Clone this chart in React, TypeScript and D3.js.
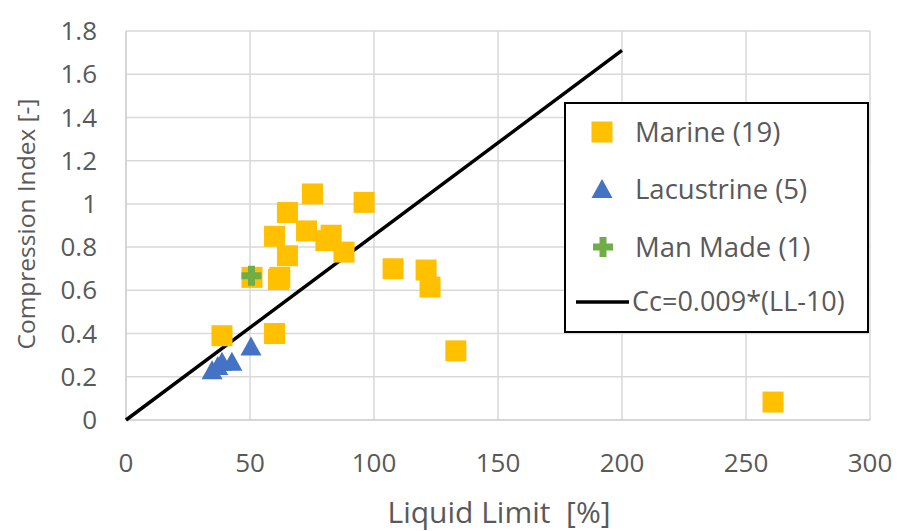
import * as d3 from 'd3';

// Liquid limit [%] / compression index [-]
const marineLL = [38.7, 50.8, 59.9, 61.5, 59.9, 65.1, 65.1, 75.2, 72.8, 82.7, 80.6, 87.9, 96, 107.7, 121, 122.6, 133, 260.9, 62];
const marineCc = [0.39, 0.66, 0.85, 0.65, 0.4, 0.96, 0.76, 1.046, 0.875, 0.855, 0.83, 0.777, 1.007, 0.7, 0.694, 0.615, 0.32, 0.083, 0.66];
const lacustrineLL = [34.7, 37, 38.7, 42.7, 50.4];
const lacustrineCc = [0.23, 0.25, 0.27, 0.27, 0.34];
const manMadeLL = [50.6];
const manMadeCc = [0.667];
const fitLL = [0, 200];
const fitCc = [0, 1.71];

const xTicks = [0, 50, 100, 150, 200, 250, 300];
const yTicks = [0, 0.2, 0.4, 0.6, 0.8, 1, 1.2, 1.4, 1.6, 1.8];
const legendLabels = ['Marine (19)', 'Lacustrine (5)', 'Man Made (1)', 'Cc=0.009*(LL-10)'];

const W = 898;
const H = 531;
const FONT = '"Open Sans", "Liberation Sans", sans-serif';
const TEXT = '#595959';
const GRID = '#d9d9d9';
const MARINE = '#FFC000';
const LACUSTRINE = '#4472C4';
const MANMADE = '#70AD47';

const x = d3.scaleLinear().domain([0, 300]).range([126, 870]);
const y = d3.scaleLinear().domain([0, 1.8]).range([420, 31]);

const SQ = 21;
const triPath = (cx: number, cy: number) =>
  `M${cx},${cy - 10} L${cx + 10.5},${cy + 9} L${cx - 10.5},${cy + 9} Z`;
const plusPath = (cx: number, cy: number) => {
  const a = 10, t = 3.5;
  return `M${cx - t},${cy - a} h${2 * t} v${a - t} h${a - t} v${2 * t} h${-(a - t)} v${a - t} h${-2 * t} v${-(a - t)} h${-(a - t)} v${-2 * t} h${a - t} Z`;
};

export default function App() {
  const line = d3.line<number>().x((_, i) => x(fitLL[i])).y(d => y(d));

  return (
    <div style={{ position: 'fixed', left: 0, top: 0 }}>
      <svg width={W} height={H} style={{ display: 'block', background: '#fff' }} fontFamily={FONT}>
        {/* grid */}
        {xTicks.slice(1).map(t => (
          <line key={'gx' + t} x1={x(t)} x2={x(t)} y1={y(0)} y2={y(1.8)} stroke={GRID} strokeWidth={1.5} />
        ))}
        {yTicks.slice(1).map(t => (
          <line key={'gy' + t} x1={x(0)} x2={x(300)} y1={y(t)} y2={y(t)} stroke={GRID} strokeWidth={1.5} />
        ))}
        {/* axes */}
        <line x1={x(0)} x2={x(0)} y1={y(0)} y2={y(1.8)} stroke="#c8c8c8" strokeWidth={1.5} />
        <line x1={x(0)} x2={x(300)} y1={y(0)} y2={y(0)} stroke="#c8c8c8" strokeWidth={1.5} />

        {/* tick labels */}
        {yTicks.map(t => (
          <text key={'ty' + t} x={97} y={y(t)} dy="0.35em" textAnchor="end" fontSize={26} fill={TEXT}>
            {d3.format('~g')(t)}
          </text>
        ))}
        {xTicks.map(t => (
          <text key={'tx' + t} x={x(t)} y={463} dy="0.35em" textAnchor="middle" fontSize={26} fill={TEXT}>
            {t}
          </text>
        ))}

        {/* axis titles */}
        <text transform={`translate(26,224) rotate(-90)`} textAnchor="middle" dy="0.35em" fontSize={24.5} fill={TEXT}>
          Compression Index [-]
        </text>
        <text x={499} y={512} textAnchor="middle" dy="0.35em" fontSize={30} fill={TEXT} style={{ whiteSpace: 'pre' }}>
          {'Liquid Limit  [%]'}
        </text>

        {/* series */}
        {lacustrineLL.map((v, i) => (
          <path key={'l' + i} d={triPath(x(v), y(lacustrineCc[i]))} fill={LACUSTRINE} />
        ))}
        <path d={line(fitCc) ?? ''} stroke="#000" strokeWidth={3.5} fill="none" />
        {marineLL.map((v, i) => (
          <rect key={'m' + i} x={x(v) - SQ / 2} y={y(marineCc[i]) - SQ / 2} width={SQ} height={SQ} fill={MARINE} />
        ))}
        {manMadeLL.map((v, i) => (
          <path key={'p' + i} d={plusPath(x(v), y(manMadeCc[i]))} fill={MANMADE} />
        ))}

        {/* legend */}
        <rect x={565} y={103} width={303} height={229} fill="#fff" stroke="#000" strokeWidth={2} />
        <rect x={602 - 10.5} y={132 - 10.5} width={SQ} height={SQ} fill={MARINE} />
        <path d={triPath(602, 189)} fill={LACUSTRINE} />
        <path d={plusPath(603, 247)} fill={MANMADE} />
        <line x1={576} x2={629} y1={302} y2={302} stroke="#000" strokeWidth={3.5} />
        {legendLabels.map((s, i) => (
          <text key={s} x={i === 3 ? 632 : 635} y={[132, 189, 247, 302][i]} dy="0.35em" fontSize={i === 3 ? 27 : 27.5} fill={TEXT}>
            {s}
          </text>
        ))}
      </svg>
    </div>
  );
}
